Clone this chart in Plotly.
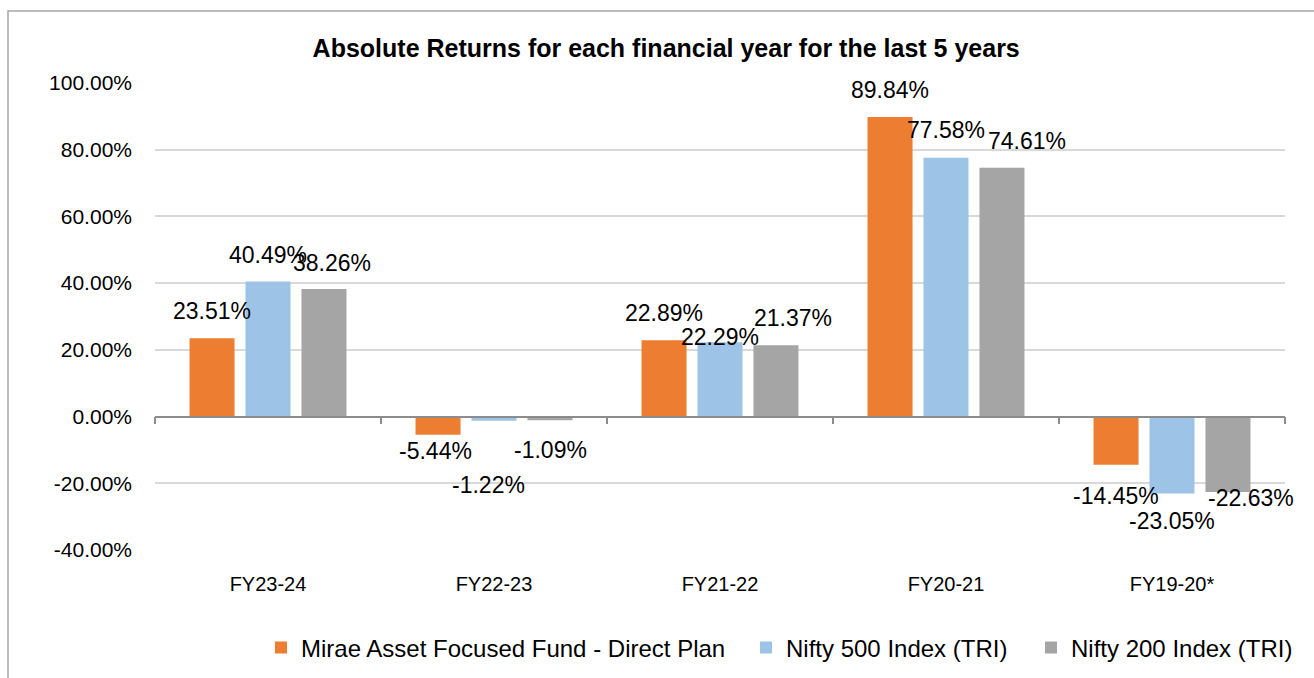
import plotly.graph_objects as go

categories = ["FY23-24", "FY22-23", "FY21-22", "FY20-21", "FY19-20*"]
series_names = ["Mirae Asset Focused Fund - Direct Plan", "Nifty 500 Index (TRI)", "Nifty 200 Index (TRI)"]
fund = [23.51, -5.44, 22.89, 89.84, -14.45]
nifty500 = [40.49, -1.22, 22.29, 77.58, -23.05]
nifty200 = [38.26, -1.09, 21.37, 74.61, -22.63]
y_ticks = [-40, -20, 0, 20, 40, 60, 80, 100]

colors = ["#ED7D31", "#9DC3E6", "#A5A5A5"]
series_vals = [fund, nifty500, nifty200]

# label placement styling (px): per series, per category (dx, dy)
series_px_offset = [-56, 0, 56]
label_offsets = [
    [(0, 27), (-3, -16), (0, 27), (0, 27), (0, -31)],
    [(0, 27), (-6, -64), (0, 5), (0, 28), (0, -28)],
    [(8, 26), (0, -30), (17, 27), (25, 27), (23, -6)],
]
legend_names = ["legend", "legend2", "legend3"]
legend_x_px = [261, 746, 1031]

FONT = "Liberation Sans, Arial, sans-serif"

fig = go.Figure()
for name, vals, col, lg in zip(series_names, series_vals, colors, legend_names):
    fig.add_trace(go.Bar(x=categories, y=vals, name=name, marker=dict(color=col, line=dict(width=0)),
                         hoverinfo="skip", legend=lg))

# invisible trace to carry the zero-line axis with boundary ticks
fig.add_trace(go.Scatter(x=categories, y=[0] * len(categories), xaxis="x2", mode="markers",
                         marker=dict(opacity=0), showlegend=False, hoverinfo="skip"))

for si, vals in enumerate(series_vals):
    for ci, (cat, v) in enumerate(zip(categories, vals)):
        dx, dy = label_offsets[si][ci]
        fig.add_annotation(x=cat, y=v, xref="x", yref="y", text=f"{v:.2f}%", showarrow=False,
                           xanchor="center", yanchor="middle",
                           xshift=series_px_offset[si] + dx, yshift=dy,
                           font=dict(family=FONT, size=23, color="#000000"))

legend_style = dict(orientation="h", xref="container", xanchor="left",
                    y=1 - 648 / 678, yref="container", yanchor="middle",
                    font=dict(family=FONT, size=24, color="#000000"),
                    bgcolor="rgba(0,0,0,0)", itemclick=False, itemdoubleclick=False)

fig.update_layout(
    width=1314, height=678,
    margin=dict(l=155, r=29, t=83, b=128),
    paper_bgcolor="white", plot_bgcolor="white",
    barmode="group", bargap=0.257, bargroupgap=0.196,
    title=dict(text="<b>Absolute Returns for each financial year for the last 5 years</b>",
               x=0.507, xref="container", xanchor="center",
               y=1 - 48 / 678, yref="container", yanchor="middle",
               font=dict(family=FONT, size=25, color="#000000")),
    showlegend=True,
    legend=dict(x=legend_x_px[0] / 1314, **legend_style),
    legend2=dict(x=legend_x_px[1] / 1314, **legend_style),
    legend3=dict(x=legend_x_px[2] / 1314, **legend_style),
    xaxis=dict(type="category", categoryarray=categories, range=[-0.5, len(categories) - 0.5],
               showline=False, showgrid=False, ticks="", zeroline=False,
               tickfont=dict(family=FONT, size=20, color="#000000"), ticklabelstandoff=20),
    xaxis2=dict(type="category", categoryarray=categories, range=[-0.5, len(categories) - 0.5],
                overlaying="x", anchor="free", position=40 / 140,
                showline=True, linecolor="#8C8C8C", linewidth=1.5,
                ticks="outside", tickson="boundaries", ticklen=7, tickcolor="#8C8C8C", tickwidth=1.5,
                showticklabels=False, showgrid=False, zeroline=False),
    yaxis=dict(range=[-40, 100], tickvals=y_ticks, ticktext=[f"{t:.2f}%" for t in y_ticks],
               showgrid=True, gridcolor="#D9D9D9", gridwidth=1.5, zeroline=False, showline=False,
               ticks="", tickfont=dict(family=FONT, size=21, color="#000000"), ticklabelstandoff=22),
    shapes=[dict(type="rect", xref="paper", yref="paper",
                 x0=(8 - 155) / 1130, x1=1.2, y0=-0.5, y1=1 + (83 - 11) / 467,
                 line=dict(color="#A6A6A6", width=1.5), fillcolor="rgba(0,0,0,0)", layer="below")],
)

fig.write_html("out.html")
